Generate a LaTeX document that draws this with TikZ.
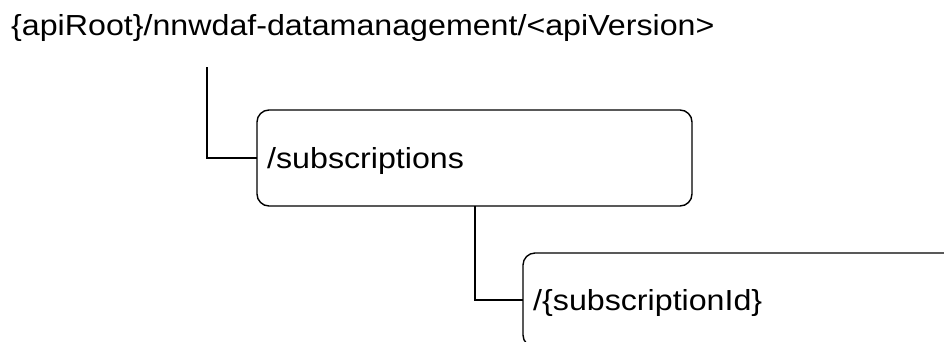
\documentclass[tikz,border=0pt]{standalone}
\usepackage{fontspec}
\setmainfont{Liberation Sans}[FakeStretch=1.11]
\begin{document}
\begin{tikzpicture}[x=1pt,y=-1pt,
  res/.style={draw, line width=1.4pt, rounded corners=12pt, inner sep=0pt},
  conn/.style={line width=1.4pt},
  lbl/.style={font=\fontsize{29}{34}\selectfont}]
\useasboundingbox (0,0) rectangle (944,341);
\clip (0,0) rectangle (944,341);
\node[lbl, anchor=base west, inner sep=0pt] (root) at (11,35) {\{apiRoot\}/nnwdaf-datamanagement/<apiVersion>};
\draw[res] (257,110) rectangle (692,206);
\node[inner sep=0pt, minimum width=435pt, minimum height=96pt] (b1) at (474.5,158) {};
\node[lbl, anchor=base west, inner sep=0pt] (t1) at (267,168) {/subscriptions};
\draw[res] (523,253) rectangle (980,347);
\node[inner sep=0pt, minimum width=457pt, minimum height=94pt] (b2) at (751.5,300) {};
\node[lbl, anchor=base west, inner sep=0pt] (t2) at (533,310) {/\{subscriptionId\}};
\coordinate (c1) at (207,67);
\coordinate (c2) at (475,206);
\draw[conn] (c1) |- (b1.west);
\draw[conn] (c2) |- (b2.west);
\end{tikzpicture}
\end{document}
